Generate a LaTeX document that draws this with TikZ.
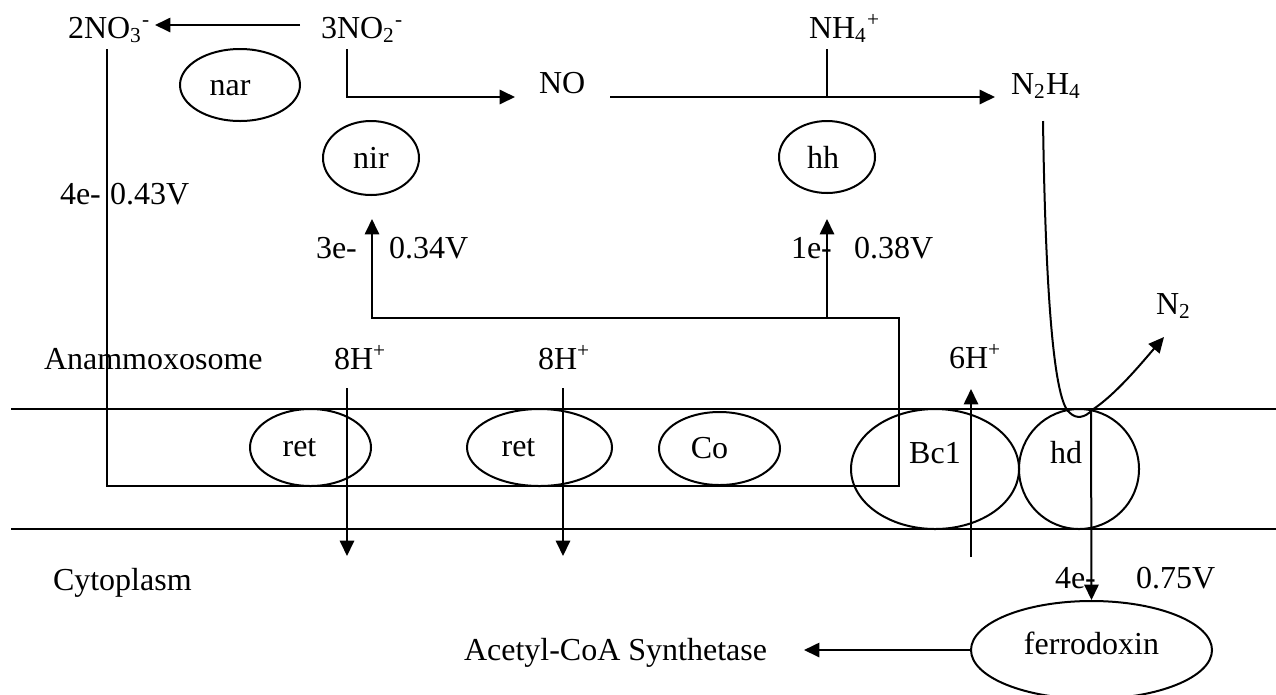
\documentclass[tikz,border=0pt]{standalone}
\usepackage{fontspec}
\setmainfont{Liberation Serif}
\usetikzlibrary{shapes.geometric,arrows.meta}
\newlength\pxu \setlength\pxu{0.375pt}
\begin{document}
\begin{tikzpicture}[x=0.375pt,y=-0.375pt,
  font=\fontsize{12pt}{14pt}\selectfont, line width=0.75pt,
  lbl/.style={inner sep=0pt, anchor=base west},
  oval/.style={draw, ellipse, inner sep=0pt},
  arr/.style={-{Triangle[length=5.8pt,width=5.4pt]}}]
\useasboundingbox (0,0) rectangle (1276,694);

% texts
\node[lbl] (no3) at (67,38) {2NO\textsubscript{3}\textsuperscript{-}};
\node[lbl] (no2) at (320,38) {3NO\textsubscript{2}\textsuperscript{-}};
\node[lbl] (no) at (538,93) {NO};
\node[lbl] (nh4) at (808,38) {NH\textsubscript{4}\textsuperscript{+}};
\node[lbl] (n2h4) at (1010,94) {N\textsubscript{2}H\textsubscript{4}};
\node[lbl] (e4a) at (59,204) {4e-};
\node[lbl] (v43) at (109,204) {0.43V};
\node[lbl] (e3) at (315,258) {3e-};
\node[lbl] (v34) at (388,258) {0.34V};
\node[lbl] (e1) at (790,258) {1e-};
\node[lbl] (v38) at (853,258) {0.38V};
\node[lbl] (n2) at (1155,314) {N\textsubscript{2}};
\node[lbl] (anam) at (43,369) {Anammoxosome};
\node[lbl] (h8a) at (333,369) {8H\textsuperscript{+}};
\node[lbl] (h8b) at (537,369) {8H\textsuperscript{+}};
\node[lbl] (h6) at (948,368) {6H\textsuperscript{+}};
\node[lbl] (cyto) at (52,590) {Cytoplasm};
\node[lbl] (e4b) at (1054,588) {4e-};
\node[lbl] (v75) at (1135,588) {0.75V};
\node[lbl] (acs) at (463,660) {Acetyl-CoA Synthetase};

% enzymes
\node[oval, minimum width=120\pxu, minimum height=72\pxu, label={[xshift=-10\pxu,yshift=-3\pxu]center:nar}] (nar) at (240,85) {};
\node[oval, minimum width=96\pxu, minimum height=74\pxu, label={center:nir}] (nir) at (371,158) {};
\node[oval, minimum width=96\pxu, minimum height=72\pxu, label={[xshift=-4\pxu]center:hh}] (hh) at (827,157) {};
\node[oval, minimum width=121\pxu, minimum height=77\pxu, label={[xshift=-11\pxu]center:ret}] (ret1) at (310.5,447.5) {};
\node[oval, minimum width=145\pxu, minimum height=77\pxu, label={[xshift=-21\pxu]center:ret}] (ret2) at (539.5,447.5) {};
\node[oval, minimum width=121\pxu, minimum height=73\pxu, label={[xshift=-10\pxu]center:Co}] (co) at (719.5,448.5) {};
\node[oval, minimum width=168\pxu, minimum height=120\pxu, label={[yshift=16\pxu]center:Bc1}] (bc1) at (935,469) {};
\node[oval, minimum width=120\pxu, minimum height=120\pxu, label={[xshift=-13\pxu,yshift=16\pxu]center:hd}] (hd) at (1079,469) {};
\node[oval, minimum width=241\pxu, minimum height=98\pxu, label={[yshift=7\pxu]center:ferrodoxin}] (fd) at (1091.5,650) {};

% membrane
\coordinate (m1l) at (11,409); \coordinate (m1r) at (1276,409);
\coordinate (m2l) at (11,529); \coordinate (m2r) at (1276,529);
\draw (m1l) -- (m1r);
\draw (m2l) -- (m2r);

% nitrite -> nitrate
\coordinate (a1s) at (300,25); \coordinate (a1e) at (155,25);
\draw[arr] (a1s) -- (a1e);

% nitrite -> NO
\coordinate (b1) at (347,49); \coordinate (b2) at (347,97); \coordinate (b3) at (515,97);
\draw[arr] (b1) -- (b2) -- (b3);

% NO -> N2H4 with NH4+
\coordinate (c1) at (610,97); \coordinate (c2) at (995,97);
\coordinate (c3) at (827,49); \coordinate (c4) at (827,97);
\draw[arr] (c1) -- (c2);
\draw (c3) -- (c4);

% N2H4 -> hd -> N2
\coordinate (d1) at (1043,121); \coordinate (d2) at (1070,413);
\coordinate (d3) at (1092,410); \coordinate (d4) at (1164,337);
\draw[arr] (d1) .. controls (1046,330) and (1057,405) .. (d2)
  .. controls (1076,419) and (1085,418) .. (d3)
  .. controls (1115,395) and (1140,365) .. (d4);

% electron path
\coordinate (e1a) at (107,49); \coordinate (e1b) at (107,486);
\coordinate (e1c) at (899,486); \coordinate (e1d) at (899,318);
\coordinate (e1e) at (372,318); \coordinate (e1f) at (372,219);
\coordinate (e1g) at (827,318); \coordinate (e1h) at (827,219);
\draw[arr] (e1a) -- (e1b) -- (e1c) -- (e1d) -- (e1e) -- (e1f);
\draw[arr] (e1g) -- (e1h);

% protons
\coordinate (p1a) at (347,388); \coordinate (p1b) at (347,556);
\coordinate (p2a) at (563,388); \coordinate (p2b) at (563,556);
\coordinate (p3a) at (971,557); \coordinate (p3b) at (971,389);
\draw[arr] (p1a) -- (p1b);
\draw[arr] (p2a) -- (p2b);
\draw[arr] (p3a) -- (p3b);

% hd -> ferrodoxin -> Acetyl-CoA Synthetase
\coordinate (f1) at (1091,410);
\coordinate (g1) at (804,650);
\draw[arr] (f1) -- (fd.north);
\draw[arr] (fd.west) -- (g1);
\end{tikzpicture}
\end{document}
